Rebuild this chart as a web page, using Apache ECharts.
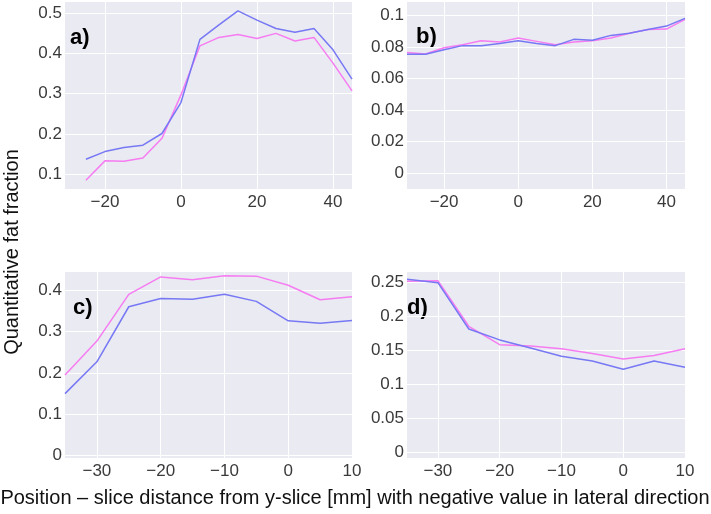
<!DOCTYPE html>
<html>
<head>
<meta charset="utf-8">
<script src="https://cdn.jsdelivr.net/npm/echarts@6/dist/echarts.min.js"></script>
<style>
  html, body { margin: 0; padding: 0; background: #fff; }
  #chart { width: 711px; height: 514px; }
</style>
</head>
<body>
<div id="chart"></div>
<script>
// x positions (mm)
const xTop = [-30, -25, -20, -15, -10, -5, 0, 5, 10, 15, 20, 25, 30, 35, 40, 45]
const xA = [-25, -20, -15, -10, -5, 0, 5, 10, 15, 20, 25, 30, 35, 40, 45]
const xBottom = [-35, -30, -25, -20, -15, -10, -5, 0, 5, 10]

// panel a
const aBlue = [0.137, 0.156, 0.166, 0.172, 0.201, 0.278, 0.435, 0.471, 0.506, 0.483, 0.462, 0.453, 0.462, 0.409, 0.336]
const aPink = [0.085, 0.133, 0.132, 0.140, 0.189, 0.297, 0.419, 0.440, 0.447, 0.437, 0.450, 0.431, 0.440, 0.376, 0.307]
// panel b
const bBlue = [0.0755, 0.0755, 0.0784, 0.081, 0.081, 0.0824, 0.0841, 0.0824, 0.081, 0.085, 0.0844, 0.0875, 0.0888, 0.0913, 0.0934, 0.0983]
const bPink = [0.0767, 0.0757, 0.0797, 0.0816, 0.0841, 0.0833, 0.0858, 0.0837, 0.0816, 0.0833, 0.0841, 0.0858, 0.0888, 0.0913, 0.0915, 0.0977]
// panel c
const cBlue = [0.150, 0.227, 0.360, 0.380, 0.378, 0.390, 0.373, 0.326, 0.320, 0.327]
const cPink = [0.195, 0.277, 0.390, 0.432, 0.425, 0.435, 0.434, 0.412, 0.377, 0.384]
// panel d
const dBlue = [0.254, 0.249, 0.181, 0.165, 0.153, 0.141, 0.134, 0.122, 0.134, 0.125]
const dPink = [0.251, 0.252, 0.185, 0.158, 0.156, 0.152, 0.145, 0.137, 0.142, 0.152]

// tick labels
const xTicksTop = [-20, 0, 20, 40]
const xTicksBottom = [-30, -20, -10, 0, 10]
const yTicksA = [0.1, 0.2, 0.3, 0.4, 0.5]
const yTicksB = [0, 0.02, 0.04, 0.06, 0.08, 0.1]
const yTicksC = [0, 0.1, 0.2, 0.3, 0.4]
const yTicksD = [0, 0.05, 0.1, 0.15, 0.2, 0.25]

const BLUE = '#7778f4'
const PINK = '#f67cf2'
const BG = '#eaeaf2'

const pairs = (xs, ys) => xs.map((x, i) => [x, ys[i]])

function xAxis(idx, min, max, ticks) {
    return {
        type: 'value', gridIndex: idx, min: min, max: max,
        axisLine: { show: false },
        axisTick: { show: false, customValues: ticks },
        axisLabel: {
            customValues: ticks, color: '#3a3a3a', fontSize: 17, margin: 5,
            fontFamily: 'Liberation Sans',
            formatter: v => String(v).replace('-', '\u2212')
        },
        splitLine: { show: true, lineStyle: { color: '#fff', width: 1 } }
    }
}

function yAxis(idx, min, max, ticks) {
    return {
        type: 'value', gridIndex: idx, min: min, max: max,
        axisLine: { show: false },
        axisTick: { show: false, customValues: ticks },
        axisLabel: {
            customValues: ticks, color: '#3a3a3a', fontSize: 17, margin: 3,
            fontFamily: 'Liberation Sans'
        },
        splitLine: { show: true, lineStyle: { color: '#fff', width: 1 } }
    }
}

function line(idx, data, color) {
    return {
        type: 'line', xAxisIndex: idx, yAxisIndex: idx,
        data: data, showSymbol: false, symbol: 'none',
        lineStyle: { color: color, width: 1.5 },
        z: color === BLUE ? 3 : 2
    }
}

const chart = echarts.init(document.getElementById('chart'))

chart.setOption({
    animation: false,
    grid: [
        { left: 65, top: 2, width: 287, height: 187, show: true, backgroundColor: BG, borderWidth: 0 },
        { left: 407, top: 2, width: 278, height: 187, show: true, backgroundColor: BG, borderWidth: 0 },
        { left: 65, top: 272, width: 287, height: 186, show: true, backgroundColor: BG, borderWidth: 0 },
        { left: 407, top: 272, width: 278, height: 186, show: true, backgroundColor: BG, borderWidth: 0 }
    ],
    xAxis: [
        xAxis(0, -30.5, 45, xTicksTop),
        xAxis(1, -30, 45, xTicksTop),
        xAxis(2, -35, 10, xTicksBottom),
        xAxis(3, -35, 10, xTicksBottom)
    ],
    yAxis: [
        yAxis(0, 0.063, 0.528, yTicksA),
        yAxis(1, -0.01, 0.1087, yTicksB),
        yAxis(2, -0.0056, 0.444, yTicksC),
        yAxis(3, -0.0084, 0.2647, yTicksD)
    ],
    graphic: [
        { type: 'text', left: 70, top: 27, style: { text: 'a)', font: 'bold 22px "Liberation Sans"', fill: '#000' } },
        { type: 'text', left: 416, top: 26, style: { text: 'b)', font: 'bold 22px "Liberation Sans"', fill: '#000' } },
        { type: 'text', left: 73, top: 297, style: { text: 'c)', font: 'bold 22px "Liberation Sans"', fill: '#000' } },
        { type: 'text', left: 407, top: 297, style: { text: 'd)', font: 'bold 22px "Liberation Sans"', fill: '#000' } },
        {
            type: 'text', x: 12, y: 252, rotation: Math.PI / 2,
            style: {
                text: 'Quantitative fat fraction', font: '20px "Liberation Sans"', fill: '#111',
                align: 'center', verticalAlign: 'middle'
            }
        },
        {
            type: 'text', x: 355, y: 498,
            style: {
                text: 'Position \u2013 slice distance from y-slice [mm] with negative value in lateral direction',
                font: '20px "Liberation Sans"', fill: '#111', align: 'center', verticalAlign: 'middle'
            }
        }
    ],
    series: [
        line(0, pairs(xA, aPink), PINK),
        line(0, pairs(xA, aBlue), BLUE),
        line(1, pairs(xTop, bPink), PINK),
        line(1, pairs(xTop, bBlue), BLUE),
        line(2, pairs(xBottom, cPink), PINK),
        line(2, pairs(xBottom, cBlue), BLUE),
        line(3, pairs(xBottom, dPink), PINK),
        line(3, pairs(xBottom, dBlue), BLUE)
    ]
})
</script>
</body>
</html>
